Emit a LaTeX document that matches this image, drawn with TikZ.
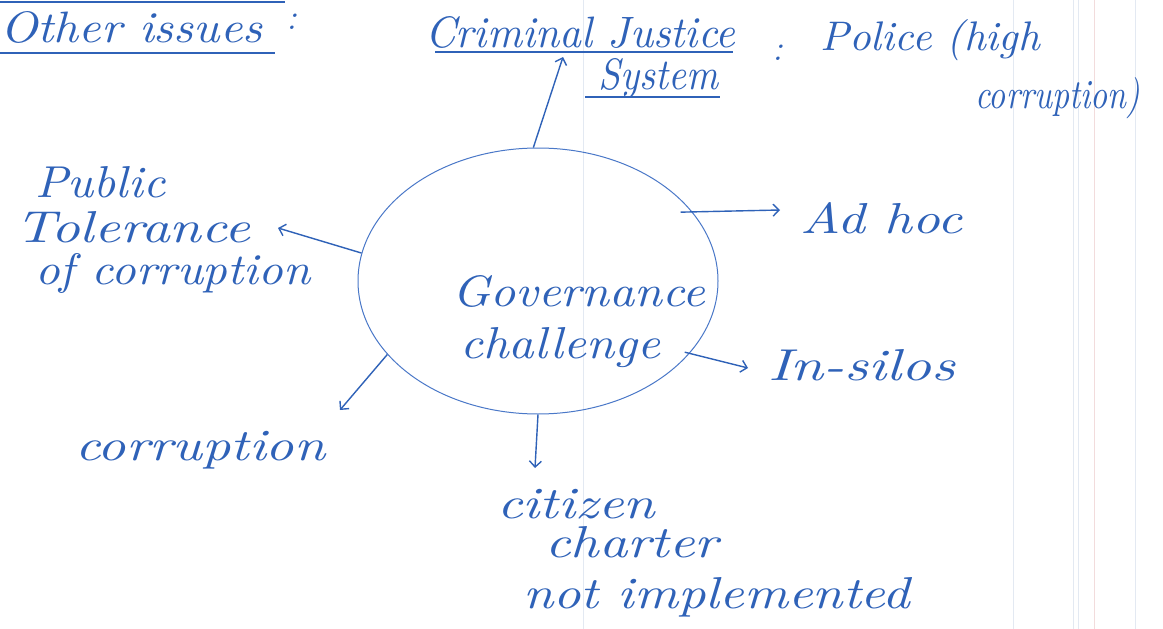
\documentclass[tikz,border=0pt]{standalone}
\usetikzlibrary{shapes.geometric,arrows.meta}
\definecolor{ink}{HTML}{2F62B8}
\definecolor{inklight}{HTML}{4A78C8}
\definecolor{paperline}{HTML}{E3E9F2}
\definecolor{paperred}{HTML}{F2DCDC}
\newcommand\hw[2]{\resizebox{#1pt}{31pt}{\itshape\vphantom{l}#2}}
\tikzset{
  lbl/.style={text=ink, inner sep=0pt, anchor=base west},
  colon/.style={text=ink, inner sep=0pt, anchor=base west, font=\fontsize{36}{36}\selectfont\itshape},
  conn/.style={draw=ink, line width=1.4pt, -{Straight Barb[length=6pt,width=12pt]}},
  uline/.style={draw=ink, line width=1.5pt},
  ruling/.style={draw=paperline, line width=1pt},
}
\begin{document}
\begin{tikzpicture}[x=1pt,y=-1pt]
\useasboundingbox (0,0) rectangle (1163,629);
\fill[white] (0,0) rectangle (1163,629);
% notebook rulings
\draw[ruling] (583,0) -- (583,629);
\draw[ruling] (1013,0) -- (1013,629);
\draw[ruling] (1073,0) -- (1073,629);
\draw[ruling] (1078,0) -- (1078,629);
\draw[draw=paperred, line width=1pt] (1094,0) -- (1094,629);
\draw[ruling] (1135,0) -- (1135,629);
% top rule
\draw[uline] (0,2) -- (285,2);

% heading
\node[lbl] (other) at (0,42) {\hw{262}{Other issues}};
\draw[uline] (0,53) -- (275,53);
\node[colon] (col1) at (286,30) {:};

\node[lbl] (cjs1) at (425,47) {\hw{310}{Criminal Justice}};
\draw[uline] (435,52) -- (733,52);
\node[lbl] (cjs2) at (598,89) {\hw{120}{System}};
\draw[uline] (585,97) -- (720,97);
\node[colon] (col2) at (772,60) {:};
\node[lbl] (pol1) at (820,50) {\hw{220}{Police (high}};
\node[lbl] (pol2) at (975,108) {\hw{165}{corruption)}};

% centre
\node[draw=inklight, line width=1pt, ellipse, minimum width=360pt, minimum height=266pt, inner sep=0pt] (c) at (538,281) {};
\node[lbl] (gov1) at (452,306) {\hw{253}{Governance}};
\node[lbl] (gov2) at (460,358) {\hw{200}{challenge}};

% branches
\node[lbl] (pub1) at (35,197) {\hw{130}{Public}};
\node[lbl] (pub2) at (15,242) {\hw{235}{Tolerance}};
\node[lbl] (pub3) at (35,284) {\hw{275}{of corruption}};
\node[lbl] (adhoc) at (800,233) {\hw{162}{Ad hoc}};
\node[lbl] (silos) at (768,380) {\hw{187}{In-silos}};
\node[lbl] (corr) at (75,460) {\hw{250}{corruption}};
\node[lbl] (cit1) at (497,518) {\hw{158}{citizen}};
\node[lbl] (cit2) at (545,557) {\hw{173}{charter}};
\node[lbl] (cit3) at (523,608) {\hw{387}{not implemented}};

% arrow tips
\coordinate (tCJS) at (563,57);
\coordinate (tAd) at (780,210);
\coordinate (tSil) at (748,368);
\coordinate (tCit) at (535,468);
\coordinate (tCor) at (340,410);
\coordinate (tPub) at (278,228);

\draw[conn] (c.92) -- (tCJS);
\draw[conn] ([xshift=-12pt]c.24) -- (tAd);
\draw[conn] ([xshift=-6pt]c.-25) -- (tSil);
\draw[conn] (c.-90) -- (tCit);
\draw[conn] (c.-154) -- (tCor);
\draw[conn] (c.171) -- (tPub);
\end{tikzpicture}
\end{document}
